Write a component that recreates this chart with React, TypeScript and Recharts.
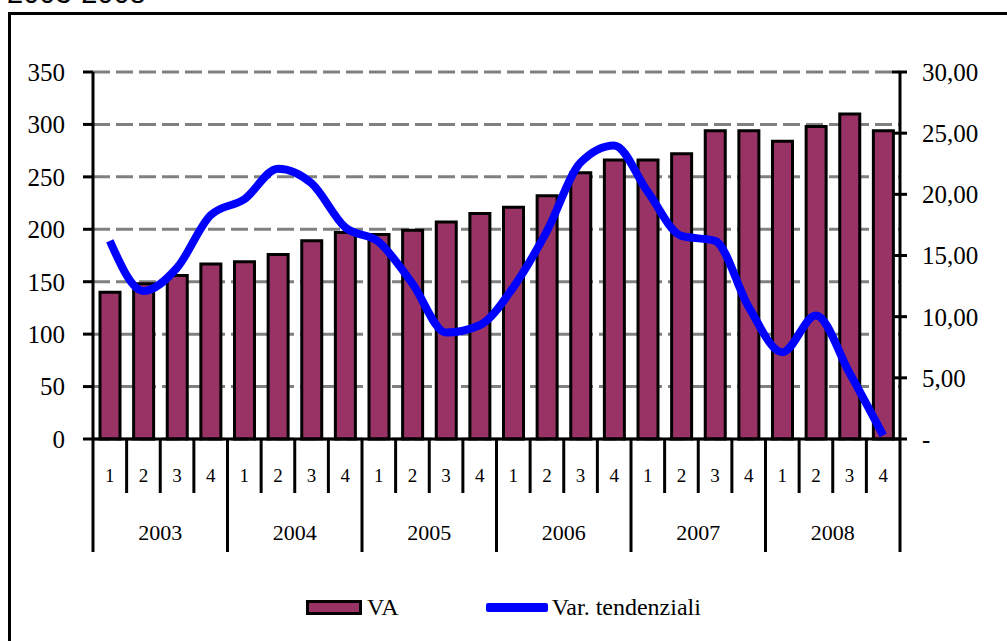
import { Bar, CartesianGrid, ComposedChart, Legend, Line, XAxis, YAxis } from "recharts";

const years = ["2003", "2004", "2005", "2006", "2007", "2008"];
const quarters = ["1", "2", "3", "4"];

// VA (left axis)
const vaValues = [
  140, 148, 156, 167, 169, 176, 189, 197, 195, 199, 207, 215,
  221, 232, 254, 266, 266, 272, 294, 294, 284, 298, 310, 294
];

// Var. tendenziali (right axis)
const trendValues = [
  16.2, 12.1, 14.0, 18.3, 19.6, 22.1, 20.9, 17.3, 16.1, 12.7, 8.7, 9.3,
  12.4, 17.0, 22.6, 24.0, 20.2, 16.6, 16.2, 10.8, 7.1, 10.1, 5.4, 0.3
];

const leftTicks = [0, 50, 100, 150, 200, 250, 300, 350];
const rightTicks = [0, 5, 10, 15, 20, 25, 30];

const data = vaValues.map((va, i) => ({
  period: `${years[Math.floor(i / 4)]}-${quarters[i % 4]}`,
  va,
  trend: trendValues[i]
}));

const SERIF = "Liberation Serif, Times New Roman, Times, DejaVu Serif, serif";
const PLOT_WIDTH = 807;
const BAND = PLOT_WIDTH / data.length;

function formatTrend(v: number) {
  return v === 0 ? "-" : v.toFixed(2).replace(".", ",");
}

function PeriodTick(props: any) {
  const { x, y, payload, index } = props;
  const [year, quarter] = String(payload.value).split("-");
  const left = x - BAND / 2;
  const right = x + BAND / 2;
  const isFirst = quarter === "1";
  return (
    <g>
      <line x1={left} x2={left} y1={y} y2={y + (isFirst ? 113 : 54)} stroke="#000" strokeWidth={3} />
      {index === data.length - 1 && (
        <line x1={right} x2={right} y1={y} y2={y + 113} stroke="#000" strokeWidth={3} />
      )}
      <text x={x} y={y + 43} textAnchor="middle" style={{ fontFamily: SERIF }} fontSize={19} fill="#000">
        {quarter}
      </text>
      {quarter === "2" && (
        <text x={right} y={y + 101} textAnchor="middle" style={{ fontFamily: SERIF }} fontSize={22} fill="#000">
          {year}
        </text>
      )}
    </g>
  );
}

function RightTick(props: any) {
  const { x, y, payload } = props;
  const axisX = x - 22;
  return (
    <g>
      <line x1={axisX - 8} x2={axisX + 7} y1={y} y2={y} stroke="#000" strokeWidth={3} />
      <text x={x} y={y} dy="0.355em" textAnchor="start" style={{ fontFamily: SERIF }} fontSize={25} fill="#000">
        {formatTrend(payload.value)}
      </text>
    </g>
  );
}

function LegendContent() {
  return (
    <div
      style={{
        display: "flex",
        justifyContent: "center",
        alignItems: "center",
        fontFamily: SERIF,
        fontSize: 24,
        color: "#000",
        height: 26
      }}
    >
      <span
        style={{
          display: "inline-block",
          width: 50,
          height: 9,
          background: "#993366",
          border: "3px solid #000"
        }}
      />
      <span style={{ marginLeft: 5 }}>VA</span>
      <span
        style={{
          display: "inline-block",
          width: 62,
          height: 9,
          background: "#0000ff",
          borderRadius: 2,
          marginLeft: 87
        }}
      />
      <span style={{ marginLeft: 4 }}>Var. tendenziali</span>
    </div>
  );
}

export default function App() {
  return (
    <div
      style={{
        position: "absolute",
        left: 0,
        top: 0,
        width: 1007,
        height: 641,
        overflow: "hidden",
        background: "#fff"
      }}
    >
      <div
        style={{
          position: "absolute",
          left: 7,
          top: -21,
          fontFamily: "Liberation Sans, Arial, sans-serif",
          fontSize: 29,
          lineHeight: "29px",
          color: "#000"
        }}
      >
        2003-2008
      </div>
      <div
        style={{
          position: "absolute",
          left: 8,
          top: 12,
          width: 1100,
          height: 700,
          border: "3px solid #000"
        }}
      />
      <div style={{ position: "absolute", left: 0, top: 0 }}>
        <ComposedChart
          width={1007}
          height={641}
          data={data}
          margin={{ top: 72, right: 0, bottom: 82, left: 0 }}
        >
          <CartesianGrid
            yAxisId="left"
            vertical={false}
            stroke="#808080"
            strokeWidth={3}
            strokeDasharray="17 6"
          />
          <XAxis
            dataKey="period"
            height={120}
            interval={0}
            tickLine={false}
            tickSize={0}
            tickMargin={0}
            axisLine={{ stroke: "#000", strokeWidth: 3 }}
            tick={<PeriodTick />}
          />
          <YAxis
            yAxisId="left"
            orientation="left"
            width={93}
            domain={[0, 350]}
            ticks={leftTicks}
            interval={0}
            tickSize={10}
            tickMargin={18}
            axisLine={{ stroke: "#000", strokeWidth: 3 }}
            tickLine={{ stroke: "#000", strokeWidth: 3 }}
            tick={{ fill: "#000", fontSize: 25, style: { fontFamily: SERIF } }}
          />
          <YAxis
            yAxisId="right"
            orientation="right"
            width={107}
            domain={[0, 30]}
            ticks={rightTicks}
            interval={0}
            tickSize={0}
            tickMargin={22}
            tickLine={false}
            axisLine={{ stroke: "#000", strokeWidth: 3 }}
            tick={<RightTick />}
          />
          <Legend
            verticalAlign="middle"
            align="center"
            layout="horizontal"
            wrapperStyle={{ top: 594, left: 0, width: 1007 }}
            content={() => <LegendContent />}
          />
          <Bar
            yAxisId="left"
            dataKey="va"
            name="VA"
            barSize={20}
            fill="#993366"
            stroke="#000"
            strokeWidth={3}
            isAnimationActive={false}
          />
          <Line
            yAxisId="right"
            dataKey="trend"
            name="Var. tendenziali"
            type="monotone"
            stroke="#0000ff"
            strokeWidth={8}
            dot={false}
            activeDot={false}
            isAnimationActive={false}
          />
        </ComposedChart>
      </div>
    </div>
  );
}
